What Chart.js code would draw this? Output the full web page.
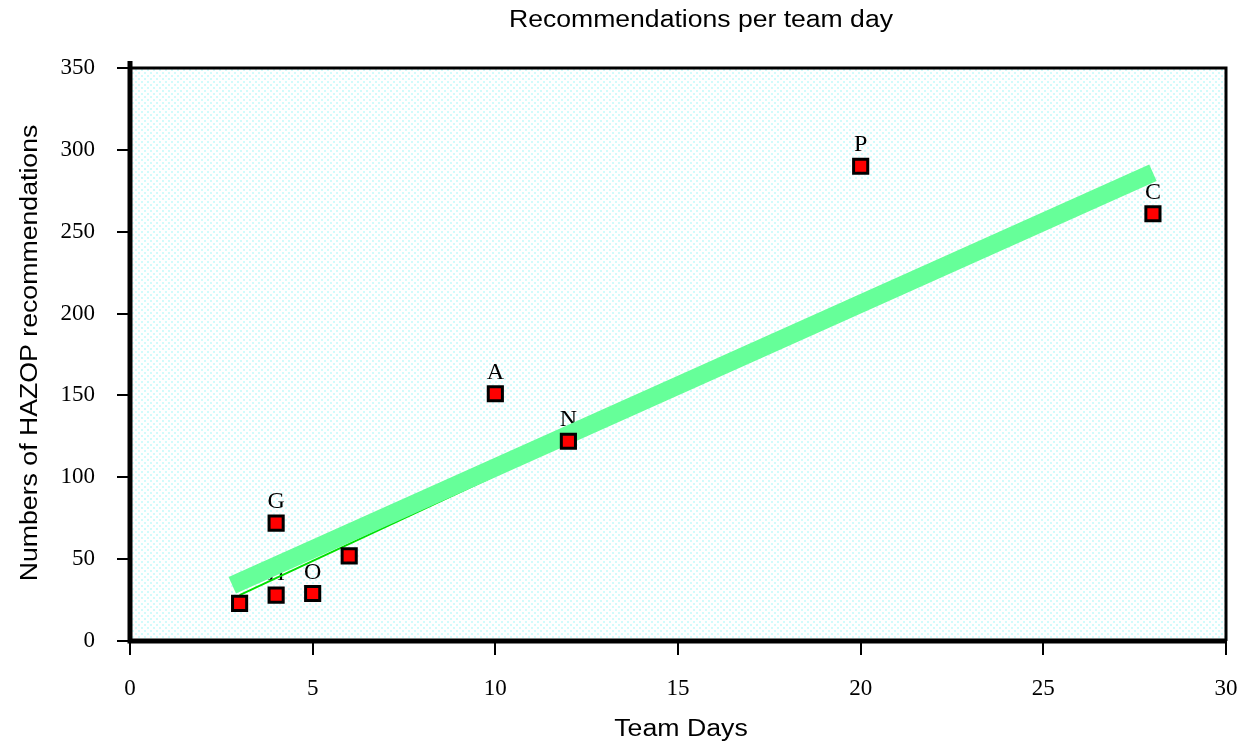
<!DOCTYPE html>
<html>
<head>
<meta charset="utf-8">
<script src="https://cdn.jsdelivr.net/npm/chart.js@4/dist/chart.umd.min.js"></script>
<style>
html,body{margin:0;padding:0;background:#fff;}
#c{display:block;}
</style>
</head>
<body>
<canvas id="c" width="1240" height="747"></canvas>
<script>
const teamDays = [3, 4, 4, 5, 6, 10, 12, 20, 28];
const recommendations = [23, 28, 72, 29, 52, 151, 122, 290, 261];
const pointLabels = ['', 'H', 'G', 'O', '', 'A', 'N', 'P', 'C'];
const trendX = [2.8, 28];
const trendY = [34, 286];
const fitX = [3, 10];
const fitY = [28, 101];
const xTicks = [0, 5, 10, 15, 20, 25, 30];
const yTicks = [0, 50, 100, 150, 200, 250, 300, 350];
const chartTitle = 'Recommendations per team day';
const xTitle = 'Team Days';
const yTitle = 'Numbers of HAZOP recommendations';

function makePattern(ctx) {
  const p = document.createElement('canvas');
  p.width = 6; p.height = 6;
  const g = p.getContext('2d');
  g.fillStyle = '#ffffff';
  g.fillRect(0, 0, 6, 6);
  g.fillStyle = '#d2fbfb';
  g.fillRect(0, 0, 2, 2);
  g.fillRect(3, 3, 2, 2);
  return ctx.createPattern(p, 'repeat');
}

function stretchedText(ctx, text, x, y, sx) {
  ctx.save();
  ctx.translate(x, y);
  ctx.scale(sx, 1);
  ctx.fillText(text, 0, 0);
  ctx.restore();
}

const decor = {
  id: 'decor',
  beforeDatasetsDraw(chart) {
    const {ctx, chartArea: a, scales} = chart;
    ctx.save();
    ctx.fillStyle = makePattern(ctx);
    ctx.fillRect(a.left, a.top, a.right - a.left, a.bottom - a.top);
    // point labels (beneath the trend band)
    ctx.fillStyle = '#000';
    ctx.font = '24px "Liberation Serif", "DejaVu Serif", serif';
    ctx.textAlign = 'center';
    ctx.textBaseline = 'alphabetic';
    for (let i = 0; i < teamDays.length; i++) {
      if (!pointLabels[i]) continue;
      const px = scales.x.getPixelForValue(teamDays[i]);
      const py = scales.y.getPixelForValue(recommendations[i]);
      ctx.fillText(pointLabels[i], px, py - 15);
    }
    ctx.restore();
  },
  afterDraw(chart) {
    const {ctx, chartArea: a} = chart;
    ctx.save();
    ctx.strokeStyle = '#000';
    // thin top and right borders
    ctx.lineWidth = 3;
    ctx.beginPath();
    ctx.moveTo(a.left, a.top);
    ctx.lineTo(a.right, a.top);
    ctx.lineTo(a.right, a.bottom);
    ctx.stroke();
    // thick left and bottom axes
    ctx.lineWidth = 5;
    ctx.beginPath();
    ctx.moveTo(a.left, a.top - 7);
    ctx.lineTo(a.left, a.bottom);
    ctx.lineTo(a.right, a.bottom);
    ctx.stroke();
    // titles
    ctx.fillStyle = '#000';
    ctx.font = '23px "Liberation Sans", Arial, sans-serif';
    ctx.textAlign = 'center';
    ctx.textBaseline = 'middle';
    stretchedText(ctx, chartTitle, 701, 21, 1.155);
    stretchedText(ctx, xTitle, 681, 730, 1.16);
    ctx.translate(31, 353);
    ctx.rotate(-Math.PI / 2);
    stretchedText(ctx, yTitle, 0, 0, 1.16);
    ctx.restore();
  }
};

const tickFont = {family: '"Liberation Serif", "DejaVu Serif", serif', size: 23};

new Chart(document.getElementById('c'), {
  type: 'scatter',
  data: {
    datasets: [
      {
        label: 'Projects',
        data: teamDays.map((x, i) => ({x, y: recommendations[i]})),
        showLine: false,
        pointStyle: 'rect',
        pointRadius: 10,
        pointBackgroundColor: '#ff0000',
        pointBorderColor: '#000000',
        pointBorderWidth: 3,
        order: 0
      },
      {
        label: 'Fit',
        data: fitX.map((x, i) => ({x, y: fitY[i]})),
        showLine: true,
        borderColor: '#00e000',
        borderWidth: 2,
        pointRadius: 0,
        order: 2
      },
      {
        label: 'Trend',
        data: trendX.map((x, i) => ({x, y: trendY[i]})),
        showLine: true,
        borderColor: '#66ff99',
        borderWidth: 18,
        borderCapStyle: 'butt',
        pointRadius: 0,
        order: 1
      }
    ]
  },
  options: {
    responsive: false,
    animation: false,
    devicePixelRatio: 1,
    layout: {padding: {top: 68, right: 14, left: 0, bottom: 0}},
    plugins: {legend: {display: false}, tooltip: {enabled: false}, title: {display: false}},
    scales: {
      x: {
        type: 'linear', min: 0, max: 30,
        afterFit(s) { s.height = 106; s.paddingLeft = 0; s.paddingRight = 0; },
        afterBuildTicks(s) { s.ticks = xTicks.map(v => ({value: v})); },
        border: {display: false},
        grid: {drawOnChartArea: false, color: '#000', lineWidth: 2, tickLength: 14},
        ticks: {color: '#000', font: tickFont, padding: 20, maxRotation: 0}
      },
      y: {
        type: 'linear', min: 0, max: 350,
        afterFit(s) { s.width = 130; s.paddingTop = 0; s.paddingBottom = 0; },
        afterBuildTicks(s) { s.ticks = yTicks.map(v => ({value: v})); },
        border: {display: false},
        grid: {drawOnChartArea: false, color: '#000', lineWidth: 2, tickLength: 13},
        ticks: {color: '#000', font: tickFont, padding: 22}
      }
    }
  },
  plugins: [decor]
});
</script>
</body>
</html>
